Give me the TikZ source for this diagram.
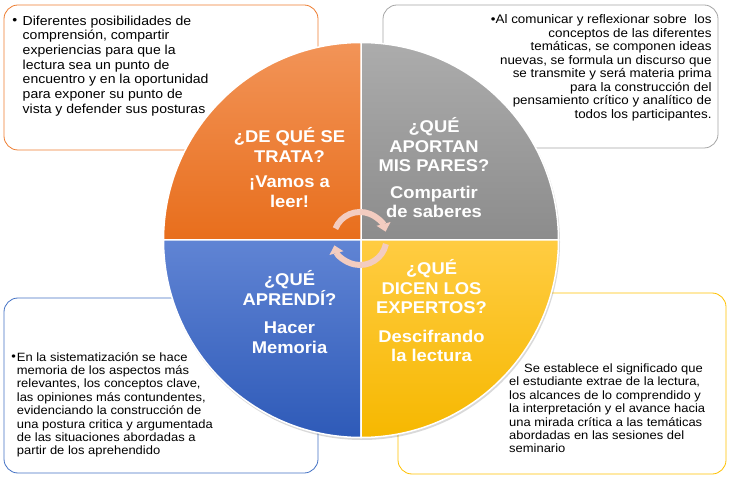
\documentclass[tikz,border=0pt]{standalone}
\usepackage{fontspec}
\setmainfont{Liberation Sans}[FakeStretch=1.08]
\usetikzlibrary{arrows.meta,positioning}

\definecolor{orangeline}{RGB}{237,125,49}
\definecolor{grayline}{RGB}{165,165,165}
\definecolor{blueline}{RGB}{68,114,196}
\definecolor{goldline}{RGB}{255,192,0}
\definecolor{orangetop}{RGB}{242,148,88}
\definecolor{orangebot}{RGB}{232,110,28}
\definecolor{graytop}{RGB}{172,172,172}
\definecolor{graybot}{RGB}{140,140,140}
\definecolor{bluetop}{RGB}{96,132,212}
\definecolor{bluebot}{RGB}{46,90,184}
\definecolor{goldtop}{RGB}{255,204,66}
\definecolor{goldbot}{RGB}{246,184,0}
\definecolor{arrowpink}{RGB}{243,204,192}

\begin{document}
\begin{tikzpicture}[x=1pt,y=1pt,
  every node/.style={inner sep=0pt},
  notebox/.style={draw,line width=0.8pt,rounded corners=14pt},
  quarter/.style={draw=white,line width=1.5pt},
  quartertitle/.style={text=white,align=center,font=\bfseries\fontsize{17}{19.5}\selectfont},
  notetext/.style={align=left,font=\fontsize{12}{13.4}\selectfont},
  bulletmark/.style={font=\fontsize{12}{13.4}\selectfont},
  turn arrow/.style={line width=6pt,draw=arrowpink,-{Triangle[width=14pt,length=8pt]}}]

  \useasboundingbox (0,0) rectangle (730,482);

  % Boxes behind the circle
  \draw[notebox,draw=orangeline] (4,332) rectangle (318,477);
  \draw[notebox,draw=grayline] (383,334) rectangle (718,477);
  \draw[notebox,draw=blueline] (4,9) rectangle (318,184);
  \draw[notebox,draw=goldline] (398,8) rectangle (726,189);

  % Circle in four quarters
  \coordinate (c) at (361,242);
  \fill[black,opacity=0.15] ([shift={(1,-2)}]c) circle[radius=198];
  \path[quarter,top color=graytop,bottom color=graybot]
    (c) -- ++(0:197.5) arc[start angle=0,end angle=90,radius=197.5] -- cycle;
  \path[quarter,top color=orangetop,bottom color=orangebot]
    (c) -- ++(90:197.5) arc[start angle=90,end angle=180,radius=197.5] -- cycle;
  \path[quarter,top color=bluetop,bottom color=bluebot]
    (c) -- ++(180:197.5) arc[start angle=180,end angle=270,radius=197.5] -- cycle;
  \path[quarter,top color=goldtop,bottom color=goldbot]
    (c) -- ++(270:197.5) arc[start angle=270,end angle=360,radius=197.5] -- cycle;

  % Titles of the quarters
  \node[quartertitle,anchor=north] (q1) at (289.5,354.6) {¿DE QUÉ SE\\TRATA?\\[6pt]¡Vamos a\\leer!};
  \node[quartertitle,anchor=north] (q2) at (434,364.6) {¿QUÉ\\APORTAN\\MIS PARES?\\[7pt]Compartir\\de saberes};
  \node[quartertitle,anchor=north] (q3) at (289.5,211.6) {¿QUÉ\\APRENDÍ?\\[9pt]Hacer\\Memoria};
  \node[quartertitle,anchor=north] (q4) at (431.5,222.6) {¿QUÉ\\DICEN LOS\\EXPERTOS?\\[9pt]Descifrando\\la lectura};

  % Texts of the boxes
  \node[notetext,font=\fontsize{13}{14.7}\selectfont,anchor=north west] (t1) at (22.5,466.5)
    {Diferentes posibilidades de\\comprensión, compartir\\experiencias para que la\\lectura sea un punto de\\encuentro y en la oportunidad\\para exponer su punto de\\vista y defender sus posturas};
  \node[bulletmark,font=\fontsize{13}{14.7}\selectfont,left=5pt of t1.north west,anchor=north east] (b1) {\vphantom{D}•};

  \node[notetext,font=\fontsize{12.4}{13.5}\selectfont,align=right,anchor=north east] (t2) at (711.7,467.5)
    {•Al comunicar y reflexionar sobre\ \ los\\conceptos de las diferentes\\temáticas, se componen ideas\\nuevas, se formula un discurso que\\se transmite y será materia prima\\para la construcción del\\pensamiento crítico y analítico de\\todos los participantes.};

  \node[notetext,anchor=north west] (t3) at (16.7,130)
    {En la sistematización se hace\\memoria de los aspectos más\\relevantes, los conceptos clave,\\las opiniones más contundentes,\\evidenciando la construcción de\\una postura critica y argumentada\\de las situaciones abordadas a\\partir de los aprehendido};
  \node[bulletmark,left=0.5pt of t3.north west,anchor=north east] (b3) {\vphantom{E}•};

  \node[notetext,anchor=north west] (t4) at (509,118.3)
    {\hspace*{15pt}Se establece el significado que\\el estudiante extrae de la lectura,\\los alcances de lo comprendido y\\la interpretación y el avance hacia\\una mirada crítica a las temáticas\\abordadas en las sesiones del\\seminario};

  % Turning arrows in the middle
  \coordinate (m) at (360,243.5);
  \draw[turn arrow] ([shift={(158:26.5)}]m) arc[start angle=158,end angle=15,radius=26.5];
  \draw[turn arrow] ([shift={(-12:26.5)}]m) arc[start angle=-12,end angle=-165,radius=26.5];

\end{tikzpicture}
\end{document}
